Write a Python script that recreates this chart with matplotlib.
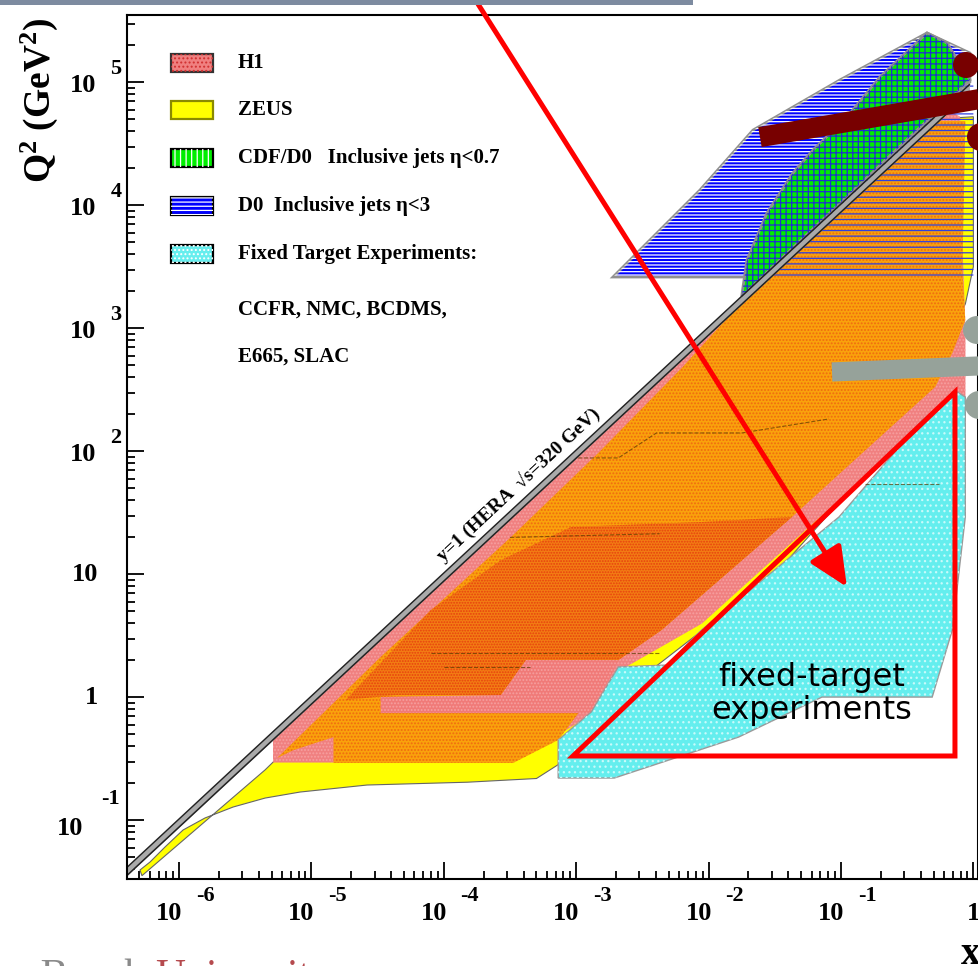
import numpy as np
import matplotlib
matplotlib.use('Agg')
import matplotlib.pyplot as plt
from matplotlib.patches import Polygon, Rectangle, Ellipse
from matplotlib.ticker import LogLocator, NullFormatter

plt.rcParams['font.family'] = ['Liberation Serif', 'DejaVu Serif']
plt.rcParams['mathtext.fontset'] = 'custom'
plt.rcParams['mathtext.rm'] = 'Liberation Serif:bold'
plt.rcParams['mathtext.default'] = 'rm'
plt.rcParams['hatch.linewidth'] = 0.9

# HERA: y=1 limit is Q2 = s x
s_hera = 320.0 ** 2
kin_x_range = (-6.393, -0.03)          # log10 x

# region outlines, (log10 x, log10 Q2)
zeus = [(-6.295, -1.404), (-6.219, -1.339), (-6.106, -1.217), (-5.970, -1.079),
        (-5.804, -0.981), (-5.592, -0.892), (-5.350, -0.819), (-5.086, -0.770),
        (-4.58, -0.713), (-3.82, -0.69), (-3.30, -0.66), (-3.14, -0.55), (-2.70, 0.00),
        (-1.50, 1.00), (-0.50, 2.20), (-0.06, 3.20), (0.00, 3.50), (0.00, 4.72),
        (-0.30, 4.70), (-5.35, -0.59), (-6.28, -1.45)]
h1 = [(-5.29, -0.53), (-5.29, -0.34), (-0.20, 4.78), (-0.10, 4.72), (-0.08, 3.60),
      (-0.06, 3.00), (-0.06, 2.40), (-0.40, 2.20), (-2.05, 0.60), (-2.70, 0.20),
      (-2.90, -0.15), (-3.48, -0.53)]
overlap = [(-5.258, -0.493), (-4.477, 0.328), (-3.492, 1.303), (-2.833, 1.986),
           (-2.20, 2.68), (-1.674, 3.30), (-0.917, 4.05), (-0.311, 4.685), (-0.061, 4.685),
           (-0.083, 3.474), (-0.061, 3.067), (-0.159, 2.80), (-0.288, 2.524), (-0.788, 2.036),
           (-1.371, 1.466), (-2.356, 0.547), (-2.682, 0.303), (-3.136, -0.347),
           (-3.477, -0.534), (-4.833, -0.534), (-4.833, -0.323), (-5.136, -0.429)]
overlap_dense = [(-4.742, -0.022), (-4.098, 0.710), (-3.568, 1.116), (-3.038, 1.385),
                 (-2.053, 1.425), (-1.371, 1.466), (-2.356, 0.547), (-2.682, 0.303),
                 (-3.379, 0.303), (-3.568, 0.019), (-4.364, 0.019)]
h1_low_q2 = [(-4.477, 0.002), (-3.568, 0.019), (-3.379, 0.303), (-2.682, 0.303),
             (-2.886, -0.128), (-4.477, -0.128)]
fixed_target = [(-3.136, -0.656), (-2.712, -0.656), (-1.773, -0.323), (-1.144, 0.002),
                (-0.311, 0.002), (-0.159, 0.547), (-0.061, 1.466), (-0.061, 2.441),
                (-0.121, 2.482), (-0.386, 2.254), (-1.015, 1.466), (-2.053, 0.547),
                (-2.318, 0.262), (-2.682, 0.247), (-2.886, -0.119), (-3.136, -0.347)]
d0_jets = [(-2.722, 3.417), (-2.518, 3.637), (-2.065, 4.124), (-1.665, 4.611),
           (-1.008, 5.019), (-0.350, 5.401), (-0.026, 5.238), (-0.026, 5.002),
           (-1.593, 3.417)]
d0_under_line = [(-1.593, 3.417), (-0.026, 5.002), (0.0, 5.002), (0.0, 3.417)]
cdf_jets = [(-1.740, 3.336), (-1.710, 3.555), (-1.559, 3.937), (-1.363, 4.262),
            (-1.211, 4.449), (-0.955, 4.717), (-0.705, 5.043), (-0.350, 5.401),
            (-0.199, 5.319), (-0.026, 5.019), (-1.75, 3.26)]
bin_lines = [[(-3.50, 1.30), (-2.37, 1.33)],
             [(-4.10, 0.36), (-2.37, 0.36)],
             [(-4.00, 0.25), (-3.35, 0.25)],
             [(-2.985, 1.946), (-2.682, 1.946), (-2.394, 2.149), (-1.75, 2.149), (-1.091, 2.263)],
             [(-0.818, 1.735), (-0.258, 1.735)]]

legend_labels = ['H1', 'ZEUS', 'CDF/D0   Inclusive jets \u03b7<0.7',
                 'D0  Inclusive jets \u03b7<3', 'Fixed Target Experiments:']
legend_extra = ['CCFR, NMC, BCDMS,', 'E665, SLAC']
x_tick_exp = [-6, -5, -4, -3, -2, -1]
y_tick_exp = [5, 4, 3, 2]

# slide annotations (log10 x, log10 Q2)
tri_pts = [(-3.024, -0.477), (-0.139, 2.482), (-0.139, -0.477)]
arrow_tip = (-0.955, 0.897)
note_pos = (-1.219, 0.027)
kin_label_pos = (-3.44, 1.73)
maroon_bar = [(-1.612, 4.554), (0.042, 4.863)]
grey_bar = [(-1.068, 2.645), (0.042, 2.694)]


def pts(p):
    a = np.array(p, dtype=float)
    return np.column_stack([10 ** a[:, 0], 10 ** a[:, 1]])


W, H = 979, 966
fig = plt.figure(figsize=(W / 100, H / 100), dpi=100)
fig.patch.set_facecolor('white')
ax = fig.add_axes([127 / W, 1 - 879 / H, 851 / W, 864 / H])
ax.set_xscale('log')
ax.set_yscale('log')
ax.set_xlim(10 ** -6.393, 10 ** 0.035)
ax.set_ylim(10 ** -1.477, 10 ** 5.547)


def region(p, face, z, edge='none', lw=0, hatch=None, hcol=None):
    ax.add_patch(Polygon(pts(p), closed=True, facecolor=face, edgecolor=edge, lw=lw, zorder=z))
    if hatch:
        ax.add_patch(Polygon(pts(p), closed=True, facecolor='none', edgecolor=hcol,
                             lw=0, hatch=hatch, zorder=z + 0.1))


region(zeus, '#ffff00', 2, edge='#666666', lw=0.8)
region(h1, '#f08080', 3, hatch='.....', hcol='#f7a0a0')
region(overlap, '#f9a20c', 4, hatch='.....', hcol='#f06a10')
region(overlap_dense, '#f27d14', 5, hatch='......', hcol='#e8400e')
region(h1_low_q2, '#f07a78', 6, hatch='.....', hcol='#f5a0a0')
region(fixed_target, '#64eeee', 7, edge='#9a9a9a', lw=1.0, hatch='...', hcol='#c8fafa')
for seg in bin_lines:
    q = pts(seg)
    ax.plot(q[:, 0], q[:, 1], color='#5a3a00', lw=0.8, ls='--', alpha=0.7, zorder=8)

region(d0_jets, '#0000ff', 9, edge='#909090', lw=2.0, hatch='-----', hcol='white')
region(cdf_jets, '#00ee00', 10, edge='#909090', lw=2.0, hatch='+++', hcol='#2030d0')
ax.add_patch(Polygon(pts(d0_under_line), closed=True, facecolor='none', edgecolor='#3040e0',
                     lw=0, hatch='---', zorder=10.2))

# y = 1 kinematic limit, drawn as a double line
kx = np.logspace(kin_x_range[0], kin_x_range[1], 50)
ax.fill_between(kx, s_hera * kx * 0.86, s_hera * kx, color='#aaaaaa', zorder=11, lw=0)
ax.plot(kx, s_hera * kx, color='#222222', lw=1.1, zorder=11.5)
ax.plot(kx, s_hera * kx * 0.86, color='#222222', lw=1.1, zorder=11.5)
ax.text(10 ** kin_label_pos[0], 10 ** kin_label_pos[1], 'y=1 (HERA  \u221as=320 GeV)',
        rotation=43, rotation_mode='anchor', ha='center', va='center',
        fontsize=14, fontweight='bold', zorder=12)

# axes styling
for sp in ax.spines.values():
    sp.set_linewidth(1.5)
    sp.set_zorder(15)
ax.xaxis.set_major_locator(LogLocator(base=10, numticks=20))
ax.yaxis.set_major_locator(LogLocator(base=10, numticks=20))
ax.xaxis.set_minor_locator(LogLocator(base=10, subs=np.arange(2, 10), numticks=20))
ax.yaxis.set_minor_locator(LogLocator(base=10, subs=np.arange(2, 10), numticks=20))
ax.xaxis.set_minor_formatter(NullFormatter())
ax.yaxis.set_minor_formatter(NullFormatter())
ax.tick_params(which='both', direction='in', top=False, right=False,
               labelbottom=False, labelleft=False, width=1.3, zorder=15)
ax.tick_params(which='major', length=12)
ax.tick_params(which='minor', length=6)

PX = 0.72


def tick_text(xy, coords, txt, dx, dy, size, ha='center'):
    ax.annotate(txt, xy=xy, xycoords=coords, xytext=(dx * PX, dy * PX),
                textcoords='offset points', ha=ha, va='center', fontsize=size,
                fontweight='bold', annotation_clip=False)


for e in x_tick_exp:
    tick_text((10.0 ** e, 0), ('data', 'axes fraction'), '10', -10, -34, 19)
    tick_text((10.0 ** e, 0), ('data', 'axes fraction'), str(e), 26, -17, 16)
tick_text((1.0, 0), ('data', 'axes fraction'), '1', -6, -34, 19, ha='left')

for e in y_tick_exp:
    tick_text((0, 10.0 ** e), ('axes fraction', 'data'), '10', -44, -3, 19)
    tick_text((0, 10.0 ** e), ('axes fraction', 'data'), str(e), -11, 13, 16)
tick_text((0, 10.0), ('axes fraction', 'data'), '10', -42, 0, 19)
tick_text((0, 1.0), ('axes fraction', 'data'), '1', -35, 0, 19)
tick_text((0, 0.1), ('axes fraction', 'data'), '10', -57, -8, 19)
tick_text((0, 0.1), ('axes fraction', 'data'), '-1', -17, 21, 16)

fig.text(39 / W, 1 - 100 / H, r'Q$^{2}$ (GeV$^{2}$)', rotation=90, ha='center', va='center',
         fontsize=27, fontweight='bold')
fig.text(971 / W, 1 - 955 / H, 'x', ha='center', va='center', fontsize=28, fontweight='bold')

# legend
sw_face = ['#f08080', '#ffff00', '#00ee00', '#0000ff', '#66eeee']
sw_hatch = ['....', None, '|||', '----', '....']
sw_hcol = ['#d03030', None, 'white', 'white', 'white']
sw_edge = ['#333333', '#8a8a00', 'black', 'black', 'black']
row_y = [(879 - py) / 864 for py in (63, 110, 158, 206, 254, 310, 357)]
for i, lab in enumerate(legend_labels):
    yc = row_y[i]
    ax.add_patch(Rectangle((44 / 851, yc - 9 / 864), 42 / 851, 18 / 864, transform=ax.transAxes,
                           facecolor=sw_face[i], edgecolor=sw_edge[i], lw=1.6, zorder=13))
    if sw_hatch[i]:
        ax.add_patch(Rectangle((44 / 851, yc - 9 / 864), 42 / 851, 18 / 864, transform=ax.transAxes,
                               facecolor='none', edgecolor=sw_hcol[i], lw=0, hatch=sw_hatch[i],
                               zorder=13.1))
    ax.text(111 / 851, yc, lab, transform=ax.transAxes, ha='left', va='center',
            fontsize=15, fontweight='bold', zorder=13)
for j, lab in enumerate(legend_extra):
    ax.text(111 / 851, row_y[5 + j], lab, transform=ax.transAxes, ha='left', va='center',
            fontsize=15, fontweight='bold', zorder=13)

# slide overlays
tri = Polygon(pts(tri_pts), closed=True, facecolor='none', edgecolor='#ff0000', lw=3.6,
              joinstyle='miter', zorder=20)
ax.add_patch(tri)
ax.annotate('', xy=tuple(10 ** np.array(arrow_tip)), xycoords='data',
            xytext=(478 / W, 1 - 4 / H), textcoords='figure fraction',
            arrowprops=dict(arrowstyle='-|>,head_length=2.4,head_width=1.1', color='#ff0000',
                            lw=3.6, shrinkA=0, shrinkB=0, mutation_scale=10),
            annotation_clip=False, zorder=21)
ax.text(10 ** note_pos[0], 10 ** note_pos[1], 'fixed-target\nexperiments', ha='center',
        va='center', fontsize=23, family='DejaVu Sans', linespacing=1.05, zorder=22)

mb = pts(maroon_bar)
ax.plot(mb[:, 0], mb[:, 1], color='#780000', lw=14.5, solid_capstyle='butt', clip_on=False, zorder=23)
gb = pts(grey_bar)
ax.plot(gb[:, 0], gb[:, 1], color='#96a29a', lw=13.8, solid_capstyle='butt', clip_on=False, zorder=23)
for (cx, cy, r, col) in [(966, 65, 13, '#780000'), (981, 137, 14, '#780000'),
                         (977, 330, 14, '#96a29a'), (979, 405, 14, '#96a29a')]:
    fig.add_artist(Ellipse((cx / W, 1 - cy / H), 2 * r / W, 2 * r / H,
                           transform=fig.transFigure, facecolor=col, edgecolor='none', zorder=24))

# slide frame bits (cut by the page edge, as in the screenshot)
fig.add_artist(Rectangle((0, 1 - 5 / H), 693 / W, 5 / H, transform=fig.transFigure,
                         facecolor='#7d8ba0', edgecolor='none', zorder=30))
fig.text(155 / W, -22 / H, 'Stony Brook ', ha='right', va='baseline', fontsize=30, color='#8a8a8a')
fig.text(155 / W, -22 / H, 'University', ha='left', va='baseline', fontsize=30, color='#b54a4e')

fig.savefig('out.png', dpi=100, facecolor='white')
